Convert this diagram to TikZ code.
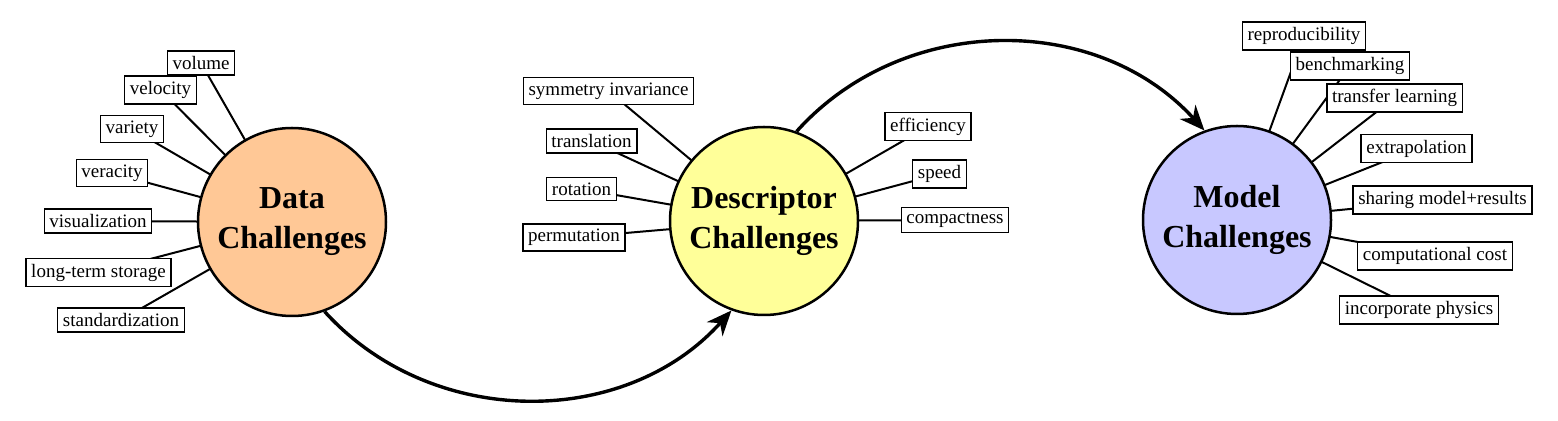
\documentclass[tikz,border=0pt]{standalone}
\usepackage{fontspec}
\setmainfont{Liberation Serif}
\usetikzlibrary{arrows.meta}
\pgfdeclarelayer{background}
\pgfsetlayers{background,main}
\definecolor{datafill}{RGB}{255,200,150}
\definecolor{descfill}{RGB}{255,255,153}
\definecolor{modelfill}{RGB}{200,200,255}
\tikzset{
  hub/.style={circle, draw=black, line width=1.25pt, minimum size=94pt, inner sep=0pt, align=center,
    font=\fontsize{16}{20}\selectfont\bfseries},
  leafbox/.style={draw=black, fill=white, line width=0.7pt, inner sep=2.6pt,
    font=\fontsize{9.5}{11}\selectfont},
  branch/.style={line width=1pt},
  flow/.style={line width=1.7pt, -{Stealth[length=12.5pt,width=10.5pt,inset=4pt]}},
}
\begin{document}
\begin{tikzpicture}[x=0.5pt,y=0.5pt]
\useasboundingbox (0,0) rectangle (1558,-421);
% hubs
\node[hub, fill=datafill] (data) at (292,-222) {Data\\Challenges};
\node[hub, fill=descfill] (desc) at (764,-221) {Descriptor\\Challenges};
\node[hub, fill=modelfill] (model) at (1237,-220) {Model\\Challenges};
% data leaves
\node[leafbox] (d1) at (201,-63) {volume};
\node[leafbox] (d2) at (160.5,-90) {velocity};
\node[leafbox] (d3) at (132,-129) {variety};
\node[leafbox] (d4) at (112,-173) {veracity};
\node[leafbox] (d5) at (98,-221) {visualization};
\node[leafbox] (d6) at (98.5,-272.5) {long-term storage};
\node[leafbox] (d7) at (121,-320) {standardization};
% descriptor leaves
\node[leafbox] (e1) at (608.5,-91) {symmetry invariance};
\node[leafbox] (e2) at (591.5,-141) {translation};
\node[leafbox] (e3) at (581.5,-189) {rotation};
\node[leafbox] (e4) at (574,-237.5) {permutation};
\node[leafbox] (e5) at (928,-126.5) {efficiency};
\node[leafbox] (e6) at (939.5,-174) {speed};
\node[leafbox] (e7) at (955,-220) {compactness};
% model leaves
\node[leafbox] (m1) at (1304,-36) {reproducibility};
\node[leafbox] (m2) at (1350,-66) {benchmarking};
\node[leafbox] (m3) at (1394.5,-98) {transfer learning};
\node[leafbox] (m4) at (1416.5,-148.5) {extrapolation};
\node[leafbox] (m5) at (1442.5,-200) {sharing model+results};
\node[leafbox] (m6) at (1435,-256) {computational cost};
\node[leafbox] (m7) at (1419,-310) {incorporate physics};
% branches
\begin{pgfonlayer}{background}
\foreach \n in {d1,d2,d3,d4,d5,d6,d7} \draw[branch] (data.center) -- (\n.center);
\foreach \n in {e1,e2,e3,e4,e5,e6,e7} \draw[branch] (desc.center) -- (\n.center);
\foreach \n in {m1,m2,m3,m4,m5,m6,m7} \draw[branch] (model.center) -- (\n.center);
\end{pgfonlayer}
% flows
\draw[flow] (data.-70) to[bend right=48] (desc.-110);
\draw[flow] (desc.70) to[bend left=48] (model.110);
\end{tikzpicture}
\end{document}
